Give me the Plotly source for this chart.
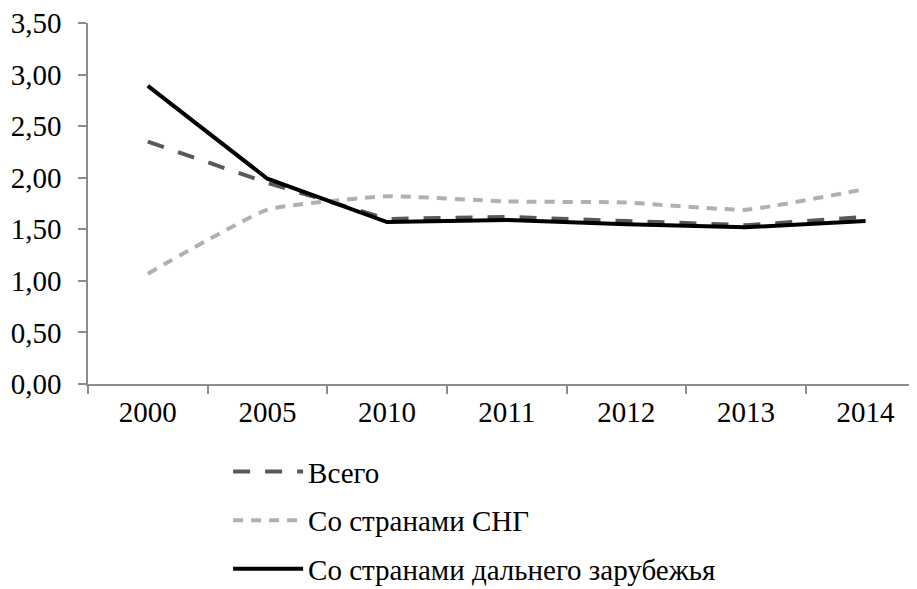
import plotly.graph_objects as go

years = ['2000', '2005', '2010', '2011', '2012', '2013', '2014']
vsego = [2.35, 1.95, 1.60, 1.62, 1.58, 1.54, 1.62]
sng = [1.07, 1.69, 1.82, 1.77, 1.76, 1.69, 1.89]
dalnee = [2.89, 1.99, 1.57, 1.59, 1.55, 1.52, 1.58]

y_ticks = [0, 0.5, 1.0, 1.5, 2.0, 2.5, 3.0, 3.5]

FONT = 'serif'
AXIS_COLOR = '#8c8c8c'

fig = go.Figure()

fig.add_trace(go.Scatter(
    x=years, y=vsego, mode='lines', name='Всего',
    legendgroup='a',
    line=dict(color='#595959', width=4, dash='17px,15px')
))
fig.add_trace(go.Scatter(
    x=years, y=sng, mode='lines', name='Со странами СНГ',
    legendgroup='b',
    line=dict(color='#b0b0b0', width=4, dash='10px,8px', shape='spline', smoothing=0.4)
))
fig.add_trace(go.Scatter(
    x=years, y=dalnee, mode='lines', name='Со странами дальнего зарубежья',
    legendgroup='c',
    line=dict(color='#000000', width=4)
))

# the page body adds 8px around the figure, so it is 8px smaller here
fig.update_layout(
    width=909,
    height=581,
    margin=dict(l=80, r=0, t=15, b=205, autoexpand=False),
    plot_bgcolor='white',
    paper_bgcolor='white',
    separators=', ',
    font=dict(family=FONT, size=29, color='#000000'),
    showlegend=True,
    legend=dict(
        orientation='v',
        x=0.169, xanchor='left',
        y=-0.172, yanchor='top',
        font=dict(family=FONT, size=29, color='#000000'),
        tracegroupgap=8,
        itemwidth=70,
        bgcolor='rgba(0,0,0,0)'
    ),
    xaxis=dict(
        type='category',
        range=[-0.5, 6.43],
        showgrid=False,
        showline=True, linecolor=AXIS_COLOR, linewidth=1.5,
        ticks='outside', ticklen=8, tickcolor=AXIS_COLOR, tickwidth=1.5,
        tickson='boundaries',
        ticklabelstandoff=1,
        tickfont=dict(family=FONT, size=29),
        zeroline=False
    ),
    yaxis=dict(
        range=[0, 3.5],
        tickvals=y_ticks,
        tickformat='.2f',
        showgrid=False,
        showline=True, linecolor=AXIS_COLOR, linewidth=1.5,
        ticks='outside', ticklen=8, tickcolor=AXIS_COLOR, tickwidth=1.5,
        ticklabelstandoff=11,
        ticklabeloverflow='allow',
        tickfont=dict(family=FONT, size=29),
        zeroline=False
    )
)

fig.write_html("out.html")
